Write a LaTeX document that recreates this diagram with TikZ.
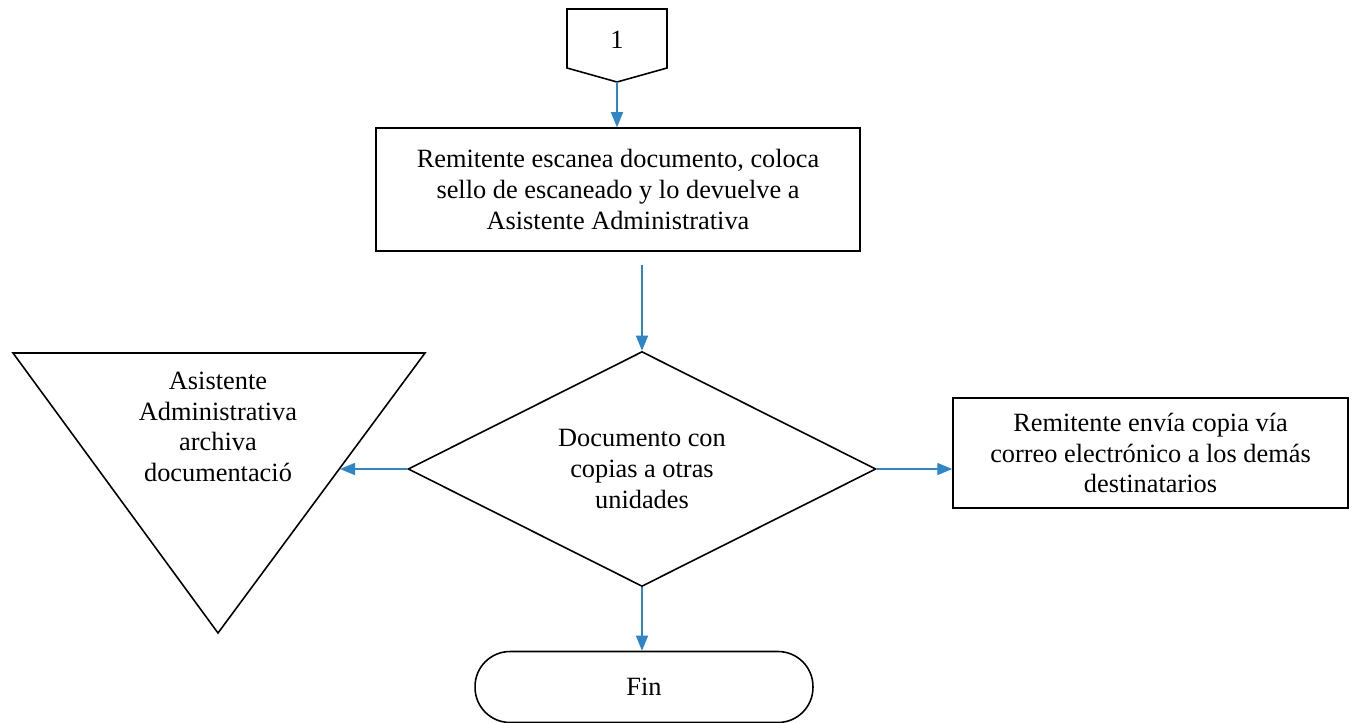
\documentclass[tikz,border=0pt]{standalone}
\usepackage{fontspec}
\setmainfont{Liberation Serif}
\usetikzlibrary{positioning,shapes.geometric,arrows.meta}
\definecolor{azul}{HTML}{2E86C8}

\begin{document}
\begin{tikzpicture}[x=0.02cm, y=-0.02cm, >={Triangle[length=0.3cm,width=0.24cm]},
    font=\fontsize{15}{17.5}\selectfont,
    caja/.style={draw, line width=0.9pt, align=center, inner sep=0pt},
    flecha/.style={->, draw=azul, fill=azul, line width=0.8pt}]

    \useasboundingbox (0,0) rectangle (1355,723); % tamano de la pagina

    % Conector de pagina "1"
    \draw[line width=0.9pt] (567,9) -- (667,9) -- (667,68) -- (617,82) -- (567,68) -- cycle;
    \node (uno) at (617,40) {1};
    \coordinate (unopunta) at (617,82);

    % Remitente escanea
    \node (escanea) at (618,189.5) [caja, minimum width=9.68cm, minimum height=2.46cm]
        {Remitente escanea documento, coloca\\sello de escaneado y lo devuelve a\\Asistente Administrativa};

    % Decision
    \node (decision) at (642,469) [caja, diamond, aspect=2, minimum width=9.36cm, minimum height=4.7cm]
        {Documento con\\copias a otras\\unidades};

    % Archivo (triangulo invertido)
    \draw[line width=0.9pt] (13,353) -- (425,353) -- (218,633) -- cycle;
    \node (archiva) at (218,427) [align=center] {Asistente\\Administrativa\\archiva\\documentaci\'o};
    \coordinate (archivaborde) at (340,469);

    % Copia por correo
    \node (correo) at (1150.5,453) [caja, minimum width=7.9cm, minimum height=2.2cm]
        {Remitente env\'ia copia v\'ia\\correo electr\'onico a los dem\'as\\destinatarios};

    % Fin
    \node (fin) at (644,687) [caja, rounded corners=0.7cm, minimum width=6.76cm, minimum height=1.42cm] {Fin};

    % Flechas
    \coordinate (escanealinea) at (642,265);
    \draw[flecha] (unopunta) -- (escanea.north -| unopunta);
    \draw[flecha] (escanealinea) -- (decision.north);
    \draw[flecha] (decision.west) -- (decision.west -| archivaborde);
    \draw[flecha] (decision.east) -- (decision.east -| correo.west);
    \draw[flecha] (decision.south) -- (decision.south |- fin.north);

\end{tikzpicture}
\end{document}
